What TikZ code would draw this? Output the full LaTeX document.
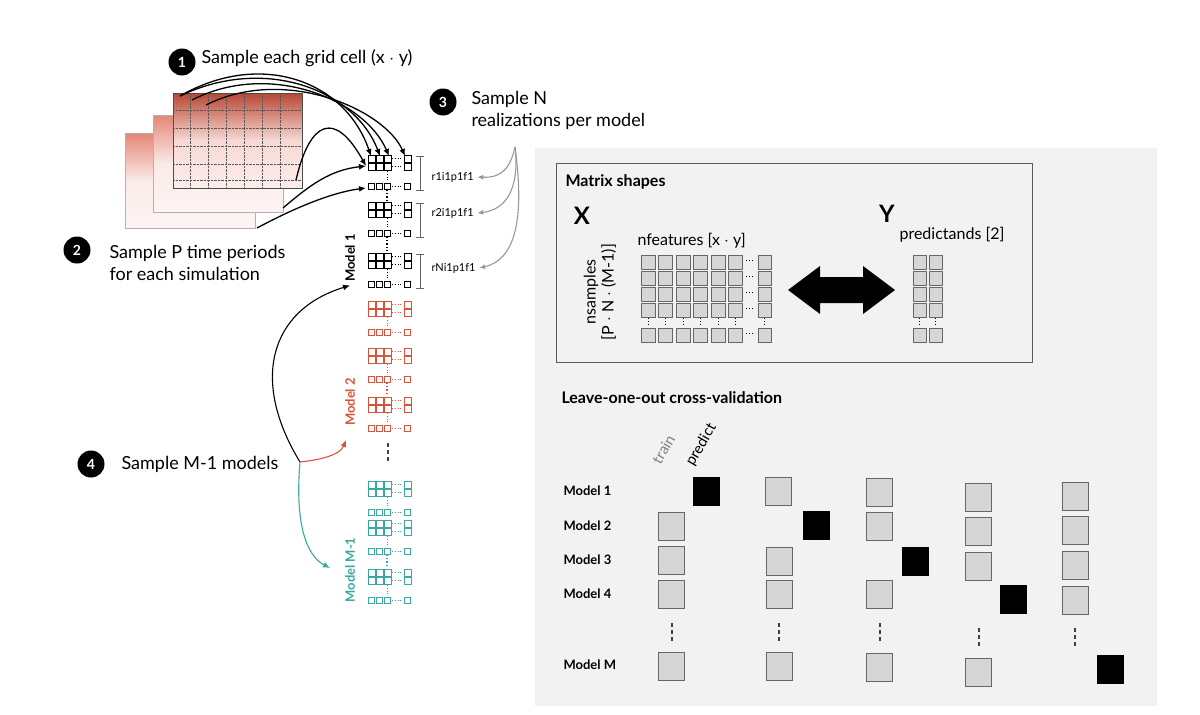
\documentclass[tikz,border=0pt]{standalone}
\usepackage{fontspec}
\setmainfont{Lato}
\usetikzlibrary{arrows.meta}
\definecolor{mred}{HTML}{D9533C}
\definecolor{mteal}{HTML}{3AA99F}
\definecolor{panel}{HTML}{F2F2F2}
\definecolor{cellg}{HTML}{D6D6D6}
\tikzset{
  badge/.style={circle,fill=black,text=white,inner sep=0pt,minimum size=27pt,font=\fontsize{14}{14}\selectfont\bfseries},
  lbl/.style={anchor=west,font=\fontsize{18}{22}\selectfont,align=left},
  arr/.style={-{Latex[length=7pt,width=6pt]},line width=1.3pt},
  garr/.style={-{Latex[length=6pt,width=5pt]},line width=1.1pt,draw=gray!80},
  gc/.style={draw=gray!80!black,fill=cellg,line width=0.8pt},
  bc/.style={fill=black},
  rl/.style={anchor=west,font=\fontsize{13}{13}\selectfont\bfseries},
  mlab/.style={rotate=90,font=\fontsize{13}{13}\selectfont\bfseries}
}
\newcommand\mblock[3]{%
 \begin{scope}[draw=#3,line width=0.55pt]
  \foreach \yy in {0,8}{
   \foreach \xx in {0,8,16}{\draw (#1+\xx,#2+\yy) rectangle ++(7,7);}
   \draw[dotted,line width=0.8pt] (#1+24,#2+\yy+3.5) -- (#1+35,#2+\yy+3.5);
   \draw (#1+36,#2+\yy) rectangle ++(7,7);}
  \draw[dotted,line width=0.8pt] (#1+19.5,#2+16) -- (#1+19.5,#2+27);
  \foreach \xx in {0,8,16}{\draw (#1+\xx+0.5,#2+28) rectangle ++(6,6);}
  \draw[dotted,line width=0.8pt] (#1+24,#2+31) -- (#1+35,#2+31);
  \draw (#1+36.5,#2+28) rectangle ++(6,6);
 \end{scope}}
\newcommand\locell[3]{\draw[#3] (#1-13,#2-14) rectangle (#1+13,#2+14);}
\newcommand\vdts[2]{\foreach \k in {-7,0,7}{\fill[black!75] (#1-1.3,#2+\k-1.6) rectangle (#1+1.3,#2+\k+1.6);}}
\begin{document}
\begin{tikzpicture}[x=1pt,y=-1pt]
\useasboundingbox (0,0) rectangle (1200,715);
\fill[white] (0,0) rectangle (1200,715);
% panel
\fill[panel] (535,148) rectangle (1157,706);
\draw[gray!70!black,line width=0.8pt] (556,163) rectangle (1032,362);

% maps
\foreach \a/\b/\c/\d in {125/133/255/228,153/115/283/212}{
 \shade[top color=mred!70,bottom color=mred!6,middle color=mred!12] (\a,\b) rectangle (\c,\d);
 \draw[gray!60] (\a,\b) rectangle (\c,\d);}
\shade[top color=mred!85!black,bottom color=mred!10,middle color=mred!22] (173,93) rectangle (302,188);
\draw[gray!60!black,line width=0.8pt] (173,93) rectangle (302,188);
\foreach \xx in {190,208,226,244,262,280}{\draw[densely dotted,gray!70!black] (\xx,93) -- (\xx,188);}
\foreach \yy in {110,128,146,164,180}{\draw[densely dotted,gray!70!black] (173,\yy) -- (302,\yy);}

% model columns
\mblock{368}{155}{black}
\mblock{368}{202}{black}
\mblock{368}{253}{black}
\draw[dotted,line width=1.2pt] (387,190) -- (387,200);
\draw[dotted,line width=1.2pt] (387,237) -- (387,251);
\mblock{368}{301}{mred}
\mblock{368}{348}{mred}
\mblock{368}{397}{mred}
\draw[dotted,mred,line width=1.2pt] (387,383) -- (387,395);
\mblock{368}{481}{mteal}
\mblock{368}{520}{mteal}
\mblock{368}{569}{mteal}
\draw[dotted,mteal,line width=1.2pt] (387,555) -- (387,567);
\vdts{388}{452}

% brackets
\foreach \t/\b in {156/190,203/237,254/288}{
 \draw[gray!80!black,line width=0.8pt] (420,\t) -- (420,\b) (416,\t) -- (424,\t) (416,\b) -- (424,\b);}
\node[anchor=west,font=\fontsize{11}{11}\selectfont] (r1) at (428,177) {r1i1p1f1};
\node[anchor=west,font=\fontsize{11}{11}\selectfont] (r2) at (428,213) {r2i1p1f1};
\node[anchor=west,font=\fontsize{11}{11}\selectfont] (rN) at (428,268) {rNi1p1f1};

\node[mlab] (m1) at (350,258) {Model 1};
\node[mlab,text=mred] (m2) at (350,402) {Model 2};
\node[mlab,text=mteal] (mm) at (350,570) {Model M-1};

% badges & labels
\node[badge] (b1) at (182,62) {1};
\node[lbl] (t1) at (198,58) {Sample each grid cell (x $\cdot$ y)};
\node[badge] (b2) at (77,250) {2};
\node[lbl,anchor=north west] (t2) at (106,242) {Sample P time periods\\for each simulation};
\node[badge] (b3) at (443,102) {3};
\node[lbl,anchor=north west] (t3) at (468,88) {Sample N\\realizations per model};
\node[badge] (b4) at (91,464) {4};
\node[lbl] (t4) at (118,464) {Sample M-1 models};

% arrows from map
\coordinate (p1) at (180,96); \coordinate (p2) at (192,100); \coordinate (p3) at (206,105);
\coordinate (s1) at (371,156); \coordinate (s2) at (380,156); \coordinate (s3) at (389,156); \coordinate (s4) at (405,156);
\draw[arr] (p1) .. controls (260,50) and (345,80) .. (s1);
\draw[arr] (p1) .. controls (265,55) and (355,90) .. (s2);
\draw[arr] (p2) .. controls (270,60) and (365,100) .. (s3);
\draw[arr] (p3) .. controls (285,65) and (385,110) .. (s4);
\coordinate (q1) at (296,180); \coordinate (q2) at (283,208); \coordinate (q3) at (257,228);
\coordinate (e1) at (366,166); \coordinate (e2) at (366,188);
\draw[arr] (q1) .. controls (310,120) and (335,110) .. (e1);
\draw[arr] (q2) .. controls (310,185) and (330,170) .. (e1);
\draw[arr] (q3) .. controls (300,205) and (335,192) .. (e2);

% arrows from 3
\coordinate (o3) at (515,147);
\draw[garr] (o3) .. controls (510,170) and (500,178) .. (r1.east);
\draw[garr] (o3) .. controls (520,190) and (505,210) .. (r2.east);
\draw[garr] (o3) .. controls (525,220) and (515,260) .. (rN.east);

% arrows from 4
\coordinate (o4) at (300,462);
\draw[arr,line width=1.1pt] (o4) .. controls (250,380) and (270,310) .. (m1.west);
\draw[arr,line width=1.1pt,mred] (o4) .. controls (320,460) and (340,455) .. (346,440);
\draw[arr,line width=1.1pt,mteal] (o4) .. controls (295,520) and (305,555) .. (330,568);

% Matrix shapes
\node[anchor=west,font=\fontsize{16}{16}\selectfont\bfseries] (ms) at (562,182) {Matrix shapes};
\node[font=\fontsize{24}{24}\selectfont\bfseries] (X) at (582,216) {X};
\node[font=\fontsize{24}{24}\selectfont\bfseries] (Y) at (887,214) {Y};
\node[rotate=90,font=\fontsize{16}{18}\selectfont,align=center] (ns) at (600,292) {nsamples\\{[P $\cdot$ N $\cdot$ (M-1)]}};
\node[anchor=west,font=\fontsize{16}{16}\selectfont] (nf) at (634,241) {nfeatures [x $\cdot$ y]};
\node[anchor=west,font=\fontsize{16}{16}\selectfont] (pr) at (896,235) {predictands [2]};
\foreach \yy in {255,271,287,303,328}{
 \foreach \i in {0,...,5}{\draw[gc] (641+\i*17.5,\yy) rectangle ++(14,14);}
 \draw[gc] (758,\yy) rectangle ++(13,14);
 \draw[dotted,line width=1pt] (746,\yy+5) -- (755,\yy+5);
 \draw[gc] (913,\yy) rectangle ++(13,14);
 \draw[gc] (929,\yy) rectangle ++(13,14);}
\foreach \i in {0,...,5}{\draw[dotted,line width=1pt] (648+\i*17.5,318) -- (648+\i*17.5,326);}
\draw[dotted,line width=1pt] (764,318) -- (764,326);
\draw[dotted,line width=1pt] (919,318) -- (919,326);
\draw[dotted,line width=1pt] (935,318) -- (935,326);
\fill (788,290) -- (820,266) -- (820,277) -- (863,277) -- (863,266) -- (895,290) -- (863,314) -- (863,303) -- (820,303) -- (820,314) -- cycle;

% LOO
\node[anchor=west,font=\fontsize{16}{16}\selectfont\bfseries] (loo) at (558,398) {Leave-one-out cross-validation};
\node[rl] (l1) at (560,491) {Model 1};
\node[rl] (l2) at (560,526) {Model 2};
\node[rl] (l3) at (560,560) {Model 3};
\node[rl] (l4) at (560,594) {Model 4};
\node[rl] (lm) at (560,665) {Model M};
\node[rotate=60,anchor=south west,text=gray,font=\fontsize{15}{15}\selectfont] (tr) at (662,470) {train};
\node[rotate=60,anchor=south west,font=\fontsize{15}{15}\selectfont] (pd) at (697,473) {predict};
% group 1
\locell{706}{491}{bc}
\foreach \yy in {526,560,594,666}{\locell{671}{\yy}{gc}}
\vdts{672}{632}
% group 2
\locell{778}{491}{gc}\locell{816}{525}{bc}
\foreach \yy in {561,594,666}{\locell{779}{\yy}{gc}}
\vdts{779}{632}
% group 3
\foreach \yy in {492,526,594,667}{\locell{879}{\yy}{gc}}
\locell{915}{561}{bc}
\vdts{880}{632}
% group 4
\foreach \yy in {497,531,566,672}{\locell{978}{\yy}{gc}}
\locell{1013}{599}{bc}
\vdts{979}{637}
% group 5
\foreach \yy in {496,530,565,600}{\locell{1075}{\yy}{gc}}
\locell{1110}{669}{bc}
\vdts{1075}{637}
\end{tikzpicture}
\end{document}
